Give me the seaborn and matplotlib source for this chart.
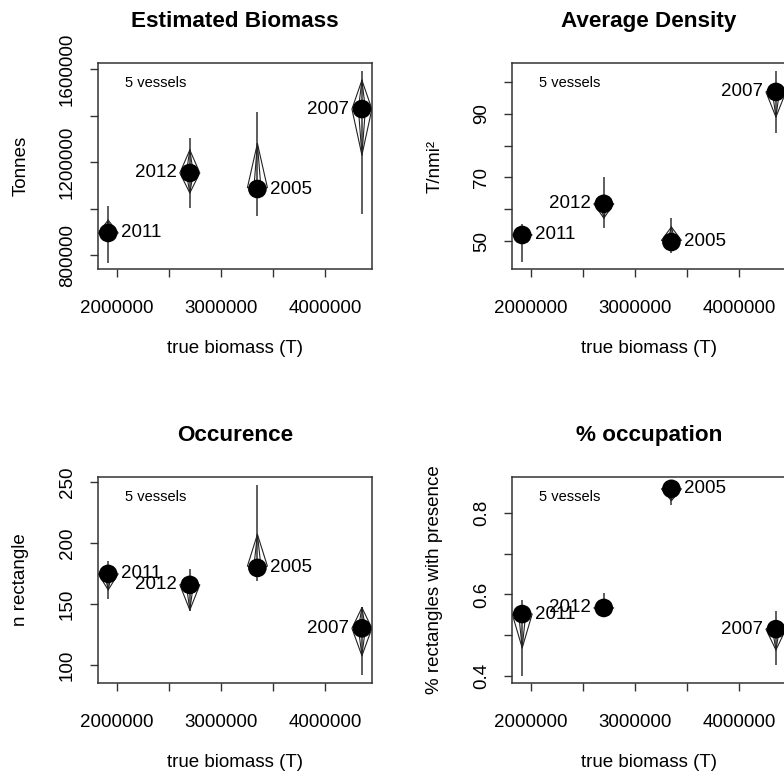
import numpy as np
import pandas as pd
import matplotlib
matplotlib.use("Agg")
import matplotlib.pyplot as plt
import seaborn as sns

# ---------------- data ----------------
years = ["2011", "2012", "2005", "2007"]
true_biomass = [1915000, 2700000, 3350000, 4355000]
label_side = ["right", "left", "right", "left"]

# Estimated Biomass
bio_val = [895000, 1153000, 1084000, 1428000]
bio_lo = [765000, 1002000, 968000, 976000]
bio_hi = [1010000, 1303000, 1415000, 1591000]
bio_vtop = [950000, 1252000, 1280000, 1552000]
bio_vmid = [895000, 1153000, 1090000, 1428000]
bio_vbot = [865000, 1067000, 1076000, 1230000]

# Average Density
den_val = [51.9, 61.7, 49.7, 96.9]
den_lo = [43.4, 54.1, 46.2, 84.0]
den_hi = [55.4, 70.2, 57.2, 103.6]
den_vtop = [53.5, 63.5, 54.4, 98.5]
den_vmid = [51.9, 61.7, 50.2, 96.9]
den_vbot = [50.5, 57.2, 49.0, 89.0]

# Occurence
occ_val = [174.6, 165.6, 179.5, 130.0]
occ_lo = [154.0, 144.0, 169.0, 91.8]
occ_hi = [185.2, 178.7, 247.5, 147.5]
occ_vtop = [178.0, 170.0, 207.0, 147.0]
occ_vmid = [174.6, 165.6, 181.0, 130.0]
occ_vbot = [161.5, 145.0, 176.0, 107.5]

# % occupation
pct_val = [0.552, 0.567, 0.859, 0.515]
pct_lo = [0.400, 0.560, 0.820, 0.427]
pct_hi = [0.586, 0.603, 0.865, 0.560]
pct_vtop = [0.560, 0.575, 0.866, 0.530]
pct_vmid = [0.552, 0.567, 0.859, 0.515]
pct_vbot = [0.469, 0.555, 0.830, 0.464]

x_ticks = [2000000, 2500000, 3000000, 3500000, 4000000]
x_ticklabels = ["2000000", "", "3000000", "", "4000000"]

panels = [
    dict(title="Estimated Biomass", ylabel="Tonnes",
         val=bio_val, lo=bio_lo, hi=bio_hi, vtop=bio_vtop, vmid=bio_vmid, vbot=bio_vbot,
         ylim=(740000, 1626000),
         yticks=[800000, 1000000, 1200000, 1400000, 1600000],
         yticklabels=["800000", "", "1200000", "", "1600000"]),
    dict(title="Average Density", ylabel="T/nmi²",
         val=den_val, lo=den_lo, hi=den_hi, vtop=den_vtop, vmid=den_vmid, vbot=den_vbot,
         ylim=(41.2, 106.0),
         yticks=[50, 60, 70, 80, 90, 100],
         yticklabels=["50", "", "70", "", "90", ""]),
    dict(title="Occurence", ylabel="n rectangle",
         val=occ_val, lo=occ_lo, hi=occ_hi, vtop=occ_vtop, vmid=occ_vmid, vbot=occ_vbot,
         ylim=(85.2, 254.0),
         yticks=[100, 150, 200, 250],
         yticklabels=["100", "150", "200", "250"]),
    dict(title="% occupation", ylabel="% rectangles with presence",
         val=pct_val, lo=pct_lo, hi=pct_hi, vtop=pct_vtop, vmid=pct_vmid, vbot=pct_vbot,
         ylim=(0.383, 0.888),
         yticks=[0.4, 0.5, 0.6, 0.7, 0.8],
         yticklabels=["0.4", "", "0.6", "", "0.8"]),
]

# ---------------- style ----------------
sns.set_theme(style="white")
plt.rcParams["font.family"] = ["Liberation Sans", "DejaVu Sans"]
plt.rcParams["text.color"] = "black"
plt.rcParams["axes.labelcolor"] = "black"
plt.rcParams["axes.titlecolor"] = "black"
FS = 13.5

W, H = 784, 778
fig = plt.figure(figsize=(W / 100, H / 100), dpi=100)

# axes boxes in pixel coords: left, top, right, bottom
boxes = [(98, 63, 372, 269), (512, 63, 786, 269),
         (98, 477, 372, 683), (512, 477, 786, 683)]

half_w = 96000  # half width of the shape in x units

for p, (l, t, r, b) in zip(panels, boxes):
    ax = fig.add_axes([l / W, 1 - b / H, (r - l) / W, (b - t) / H])
    ax.set_xlim(1817000, 4452000)
    ax.set_ylim(*p["ylim"])

    # range lines
    ax.vlines(true_biomass, p["lo"], p["hi"], color="#333333", lw=1.1, zorder=1)

    # diamond-like distribution shapes (outer + inner)
    for x, vt, vm, vb in zip(true_biomass, p["vtop"], p["vmid"], p["vbot"]):
        for f in (1.0, 0.35):
            xs = [x, x - half_w * f, x, x + half_w * f, x]
            ys = [vt, vm, vb, vm, vt]
            ax.plot(xs, ys, color="#222222", lw=0.8, zorder=2)

    df = pd.DataFrame({"x": true_biomass, "y": p["val"]})
    sns.scatterplot(data=df, x="x", y="y", color="black", s=180,
                    edgecolor="none", ax=ax, zorder=3, legend=False)

    for x, y, yr, side in zip(true_biomass, p["val"], years, label_side):
        off = 9 if side == "right" else -9
        ax.annotate(yr, (x, y), xytext=(off, 0), textcoords="offset points",
                    ha="left" if side == "right" else "right", va="center",
                    fontsize=FS, color="black", zorder=4)

    ax.text(0.1, 0.905, "5 vessels", transform=ax.transAxes, ha="left",
            va="center", fontsize=10.5, color="black")

    ax.set_xticks(x_ticks, labels=x_ticklabels)
    ax.set_yticks(p["yticks"], labels=p["yticklabels"])
    ax.tick_params(axis="both", direction="out", length=6, width=1,
                   color="#333333", labelsize=FS, labelcolor="black")
    ax.tick_params(axis="x", pad=16, bottom=True)
    ax.tick_params(axis="y", pad=10, left=True)
    for lab in ax.get_yticklabels():
        lab.set_rotation(90)
        lab.set_va("center")

    for s in ax.spines.values():
        s.set_color("#333333")
        s.set_linewidth(1.1)

    ax.set_title(p["title"], fontsize=16.2, fontweight="bold", pad=26)
    ax.set_xlabel("true biomass (T)", fontsize=FS)
    ax.set_ylabel(p["ylabel"], fontsize=FS)
    ax.xaxis.set_label_coords(0.5, -0.345)
    ax.yaxis.set_label_coords(-0.25, 0.5)

fig.savefig("out.png", dpi=100)
